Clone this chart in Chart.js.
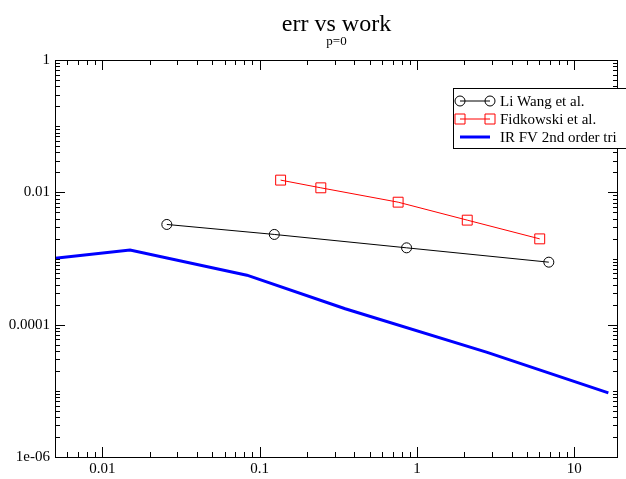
<!DOCTYPE html>
<html>
<head>
<meta charset="utf-8">
<title>err vs work</title>
<script src="https://cdn.jsdelivr.net/npm/chart.js@4/dist/chart.umd.min.js"></script>
<style>
    html, body { margin: 0; padding: 0; background: #ffffff; }
    #wrap { width: 626px; height: 479px; }
</style>
</head>
<body>
<div id="wrap"><canvas id="errChart" width="626" height="479"></canvas></div>
<script>
const titleText = "err vs work";
const subtitleText = "p=0";

const liWangWork = [0.0257, 0.124, 0.86, 6.9];
const liWangErr = [0.00327, 0.00231, 0.00145, 0.00088];

const fidkowskiWork = [0.136, 0.245, 0.76, 2.09, 6.04];
const fidkowskiErr = [0.0153, 0.0117, 0.0071, 0.0038, 0.00198];

const irfvWork = [0.005, 0.015, 0.083, 0.35, 2.8, 16.5];
const irfvErr = [0.00101, 0.00134, 0.00056, 0.000174, 0.0000382, 0.0000093];

const xTickValues = [0.01, 0.1, 1, 10];
const xTickLabels = ["0.01", "0.1", "1", "10"];
const yTickValues = [1e-6, 1e-4, 1e-2, 1];
const yTickLabels = ["1e-06", "0.0001", "0.01", "1"];

const SERIF = '"Liberation Serif", "Times New Roman", serif';

function toPoints(xs, ys) {
    return xs.map((x, i) => ({ x: x, y: ys[i] }));
}

// grace-style frame with inward ticks on all four sides
const frameTicks = {
    id: "frameTicks",
    afterDatasetsDraw(chart) {
        const { ctx, chartArea, scales } = chart;
        const { left, right, top, bottom } = chartArea;
        ctx.save();
        ctx.strokeStyle = "#000000";
        ctx.lineWidth = 1;

        function marks(scale, majors, draw) {
            const lo = Math.floor(Math.log10(scale.min));
            const hi = Math.ceil(Math.log10(scale.max));
            for (let d = lo; d <= hi; d++) {
                for (let m = 1; m <= 9; m++) {
                    const v = m * Math.pow(10, d);
                    if (v < scale.min * 0.999 || v > scale.max * 1.001) continue;
                    const isMajor = majors.some((t) => Math.abs(t - v) / t < 1e-6);
                    draw(Math.round(scale.getPixelForValue(v)) + 0.5, isMajor ? 10 : 5);
                }
            }
        }

        ctx.beginPath();
        marks(scales.x, xTickValues, (px, len) => {
            ctx.moveTo(px, bottom);
            ctx.lineTo(px, bottom - len);
            ctx.moveTo(px, top);
            ctx.lineTo(px, top + len);
        });
        marks(scales.y, yTickValues, (py, len) => {
            ctx.moveTo(left, py);
            ctx.lineTo(left + len, py);
            ctx.moveTo(right, py);
            ctx.lineTo(right - len, py);
        });
        ctx.stroke();

        ctx.strokeRect(Math.round(left) + 0.5, Math.round(top) + 0.5,
            Math.round(right - left) - 1, Math.round(bottom - top));
        ctx.restore();
    },
};

const titles = {
    id: "titles",
    afterDraw(chart) {
        const { ctx, chartArea } = chart;
        const cx = (chartArea.left + chartArea.right) / 2;
        ctx.save();
        ctx.fillStyle = "#000000";
        ctx.textAlign = "center";
        ctx.textBaseline = "alphabetic";
        ctx.font = "24px " + SERIF;
        ctx.fillText(titleText, cx, 31);
        ctx.font = "13px " + SERIF;
        ctx.fillText(subtitleText, cx, 45);
        ctx.restore();
    },
};

const boxLegend = {
    id: "boxLegend",
    afterDraw(chart) {
        const { ctx } = chart;
        const boxLeft = 453.5;
        const boxTop = 88.5;
        ctx.save();
        ctx.fillStyle = "#ffffff";
        ctx.fillRect(boxLeft, boxTop, 200, 60);
        ctx.strokeStyle = "#000000";
        ctx.lineWidth = 1;
        ctx.strokeRect(boxLeft, boxTop, 200, 60);

        chart.data.datasets.forEach((ds, i) => {
            const y = 101 + i * 18;
            ctx.strokeStyle = ds.borderColor;
            ctx.lineWidth = ds.borderWidth;
            ctx.beginPath();
            ctx.moveTo(460, y);
            ctx.lineTo(490, y);
            ctx.stroke();
            if (ds.pointRadius > 0) {
                ctx.lineWidth = 1;
                [460, 490].forEach((px) => {
                    ctx.beginPath();
                    if (ds.pointStyle === "rect") {
                        ctx.rect(px - 5, y - 5, 10, 10);
                    } else {
                        ctx.arc(px, y, 5, 0, Math.PI * 2);
                    }
                    ctx.stroke();
                });
            }
            ctx.fillStyle = "#000000";
            ctx.font = "15px " + SERIF;
            ctx.textAlign = "left";
            ctx.textBaseline = "middle";
            ctx.fillText(ds.label, 500, y + 1);
        });
        ctx.restore();
    },
};

new Chart(document.getElementById("errChart"), {
    type: "line",
    data: {
        datasets: [
            {
                label: "Li Wang et al.",
                data: toPoints(liWangWork, liWangErr),
                borderColor: "#000000",
                borderWidth: 1,
                pointStyle: "circle",
                pointRadius: 5,
                pointBorderWidth: 1,
                pointBackgroundColor: "rgba(0,0,0,0)",
                pointBorderColor: "#000000",
                tension: 0,
            },
            {
                label: "Fidkowski et al.",
                data: toPoints(fidkowskiWork, fidkowskiErr),
                borderColor: "#ff0000",
                borderWidth: 1,
                pointStyle: "rect",
                pointRadius: 7,
                pointBorderWidth: 1,
                pointBackgroundColor: "rgba(0,0,0,0)",
                pointBorderColor: "#ff0000",
                tension: 0,
            },
            {
                label: "IR FV 2nd order tri",
                data: toPoints(irfvWork, irfvErr),
                borderColor: "#0000ff",
                borderWidth: 3,
                pointRadius: 0,
                tension: 0,
            },
        ],
    },
    options: {
        responsive: false,
        animation: false,
        devicePixelRatio: 1,
        layout: {
            padding: { left: 0, right: 4, top: 60, bottom: 0 },
        },
        plugins: {
            legend: { display: false },
            title: { display: false },
            tooltip: { enabled: false },
        },
        scales: {
            x: {
                type: "logarithmic",
                min: 0.005,
                max: 19,
                grid: { display: false, drawTicks: false },
                border: { display: false },
                afterBuildTicks(scale) {
                    scale.ticks = xTickValues.map((v) => ({ value: v }));
                },
                afterFit(scale) {
                    scale.height = 22;
                    scale.paddingLeft = 0;
                    scale.paddingRight = 0;
                },
                ticks: {
                    autoSkip: false,
                    maxRotation: 0,
                    padding: 3,
                    color: "#000000",
                    font: { family: SERIF, size: 15 },
                    callback(value) {
                        const i = xTickValues.findIndex((t) => Math.abs(t - value) / t < 1e-6);
                        return i >= 0 ? xTickLabels[i] : "";
                    },
                },
            },
            y: {
                type: "logarithmic",
                min: 1e-6,
                max: 1,
                grid: { display: false, drawTicks: false },
                border: { display: false },
                afterBuildTicks(scale) {
                    scale.ticks = yTickValues.map((v) => ({ value: v }));
                },
                afterFit(scale) {
                    scale.width = 55;
                },
                ticks: {
                    autoSkip: false,
                    padding: 5,
                    color: "#000000",
                    font: { family: SERIF, size: 15 },
                    callback(value) {
                        const i = yTickValues.findIndex((t) => Math.abs(t - value) / t < 1e-6);
                        return i >= 0 ? yTickLabels[i] : "";
                    },
                },
            },
        },
    },
    plugins: [frameTicks, titles, boxLegend],
});
</script>
</body>
</html>
